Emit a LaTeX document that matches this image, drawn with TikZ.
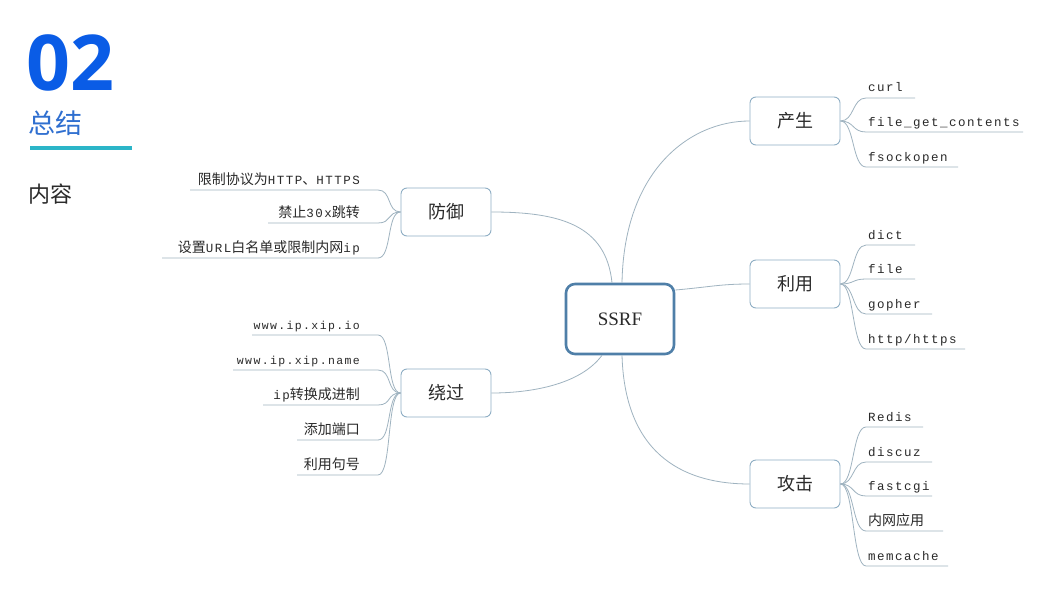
\documentclass[tikz,border=0pt]{standalone}
\usepackage{fontspec}
\setmainfont{Liberation Serif}
\newfontfamily\cjk{Noto Sans CJK SC}
\newfontfamily\opensans{Open Sans}
\newfontfamily\leafmono[LetterSpace=12]{Liberation Mono}
\definecolor{titleblue}{HTML}{0A5CE6}
\definecolor{subblue}{HTML}{2F6FD0}
\definecolor{teal}{HTML}{2BB5C8}
\definecolor{darkgray}{HTML}{2A2A2A}
\definecolor{nodeborder}{HTML}{8EAEC4}
\definecolor{mainborder}{HTML}{4F7FA8}
\definecolor{linkcol}{HTML}{9FB3C0}
\begin{document}
\begin{tikzpicture}[x=1pt,y=-1pt,
  branch/.style={draw=nodeborder, line width=0.9pt, rounded corners=6pt, fill=white,
    minimum width=90pt, minimum height=48pt, inner sep=0pt, font=\cjk\fontsize{18}{20}\selectfont, text=darkgray},
  mainnode/.style={draw=mainborder, line width=2.6pt, rounded corners=9pt, fill=white,
    minimum width=108pt, minimum height=70pt, inner sep=0pt, font=\fontsize{19}{21}\selectfont, text=darkgray},
  link/.style={draw=linkcol, line width=0.8pt},
  leafR/.style={anchor=base west, inner sep=0pt, text=darkgray, font=\leafmono\fontsize{12.5}{14}\selectfont},
  leafL/.style={anchor=base east, inner sep=0pt, text=darkgray, font=\leafmono\fontsize{12.5}{14}\selectfont},
]
\useasboundingbox (0,0) rectangle (1064,607);
\fill[white] (0,0) rectangle (1064,607);

% title block
\node[anchor=base west, inner sep=0pt, text=titleblue, font=\opensans\bfseries\fontsize{77}{77}\selectfont] (num) at (26,91) {02};
\node[anchor=base west, inner sep=0pt, text=subblue, font=\cjk\fontsize{27}{30}\selectfont] (sub) at (28,133) {总结};
\draw[teal, line width=4pt] (30,148) -- (132,148);
\node[anchor=base west, inner sep=0pt, text=darkgray, font=\cjk\fontsize{22}{26}\selectfont] (content) at (28,202) {内容};

% nodes
\node[mainnode] (ssrf) at (620,319) {SSRF};
\node[branch] (cs) at (795,121) {产生};
\node[branch] (ly) at (795,284) {利用};
\node[branch] (gj) at (795,484) {攻击};
\node[branch] (fy) at (446,212) {防御};
\node[branch] (rg) at (446,393) {绕过};

% main connectors
\draw[link] (ssrf.north) ++(2,0) .. controls (624,170) and (690,121) .. (cs.west);
\draw[link] (ssrf.east) ++(0,-29) .. controls (710,287) and (720,284) .. (ly.west);
\draw[link] (ssrf.south) ++(2,0) .. controls (625,460) and (690,484) .. (gj.west);
\draw[link] (ssrf.north) ++(-8,0) .. controls (606,225) and (560,212) .. (fy.east);
\draw[link] (ssrf.south) ++(-18,0) .. controls (580,385) and (530,393) .. (rg.east);

% right leaves
\foreach \n/\pp/\y/\xe/\txt in {
  c1/cs/98/915/{curl}, c2/cs/132/1023/{file\_get\_contents}, c3/cs/167/958/{fsockopen},
  u1/ly/245/915/{dict}, u2/ly/279/915/{file}, u3/ly/314/932/{gopher}, u4/ly/349/965/{http/https},
  g1/gj/427/923/{Redis}, g2/gj/462/932/{discuz}, g3/gj/496/932/{fastcgi}, g5/gj/566/948/{memcache}}{
  \coordinate (\n s) at (866,\y);
  \coordinate (\n e) at (\xe,\y);
  \draw[link] (\pp.east) .. controls +(14,0) and +(-14,0) .. (\n s) -- (\n e);
  \node[leafR] (\n) at (868,\y-6) {\txt};
}
\coordinate (g4s) at (866,531);
\coordinate (g4e) at (943,531);
\draw[link] (gj.east) .. controls +(14,0) and +(-14,0) .. (g4s) -- (g4e);
\node[leafR, font=\cjk\fontsize{14}{16}\selectfont] (g4) at (868,525) {内网应用};

% left leaves (防御)
\coordinate (f1s) at (378,190); \coordinate (f1e) at (190,190);
\coordinate (f2s) at (378,223); \coordinate (f2e) at (268,223);
\coordinate (f3s) at (378,258); \coordinate (f3e) at (162,258);
\foreach \n in {f1,f2,f3}{
  \draw[link] (fy.west) .. controls +(-14,0) and +(14,0) .. (\n s) -- (\n e);
}
\node[leafL] (f1) at (360,184) {{\cjk\fontsize{14}{16}\selectfont 限制协议为}HTTP{\cjk\fontsize{14}{16}\selectfont 、}HTTPS};
\node[leafL] (f2) at (360,217) {{\cjk\fontsize{14}{16}\selectfont 禁止}30x{\cjk\fontsize{14}{16}\selectfont 跳转}};
\node[leafL] (f3) at (360,252) {{\cjk\fontsize{14}{16}\selectfont 设置}URL{\cjk\fontsize{14}{16}\selectfont 白名单或限制内网}ip};

% left leaves (绕过)
\coordinate (r1s) at (378,335); \coordinate (r1e) at (252,335);
\coordinate (r2s) at (378,370); \coordinate (r2e) at (233,370);
\coordinate (r3s) at (378,405); \coordinate (r3e) at (263,405);
\coordinate (r4s) at (378,440); \coordinate (r4e) at (297,440);
\coordinate (r5s) at (378,475); \coordinate (r5e) at (297,475);
\foreach \n in {r1,r2,r3,r4,r5}{
  \draw[link] (rg.west) .. controls +(-14,0) and +(14,0) .. (\n s) -- (\n e);
}
\node[leafL, font=\leafmono\fontsize{11.5}{13}\selectfont] (r1) at (360,329) {www.ip.xip.io};
\node[leafL, font=\leafmono\fontsize{11.5}{13}\selectfont] (r2) at (360,364) {www.ip.xip.name};
\node[leafL] (r3) at (360,399) {ip{\cjk\fontsize{14}{16}\selectfont 转换成进制}};
\node[leafL, font=\cjk\fontsize{14}{16}\selectfont] (r4) at (360,434) {添加端口};
\node[leafL, font=\cjk\fontsize{14}{16}\selectfont] (r5) at (360,469) {利用句号};
\end{tikzpicture}
\end{document}
